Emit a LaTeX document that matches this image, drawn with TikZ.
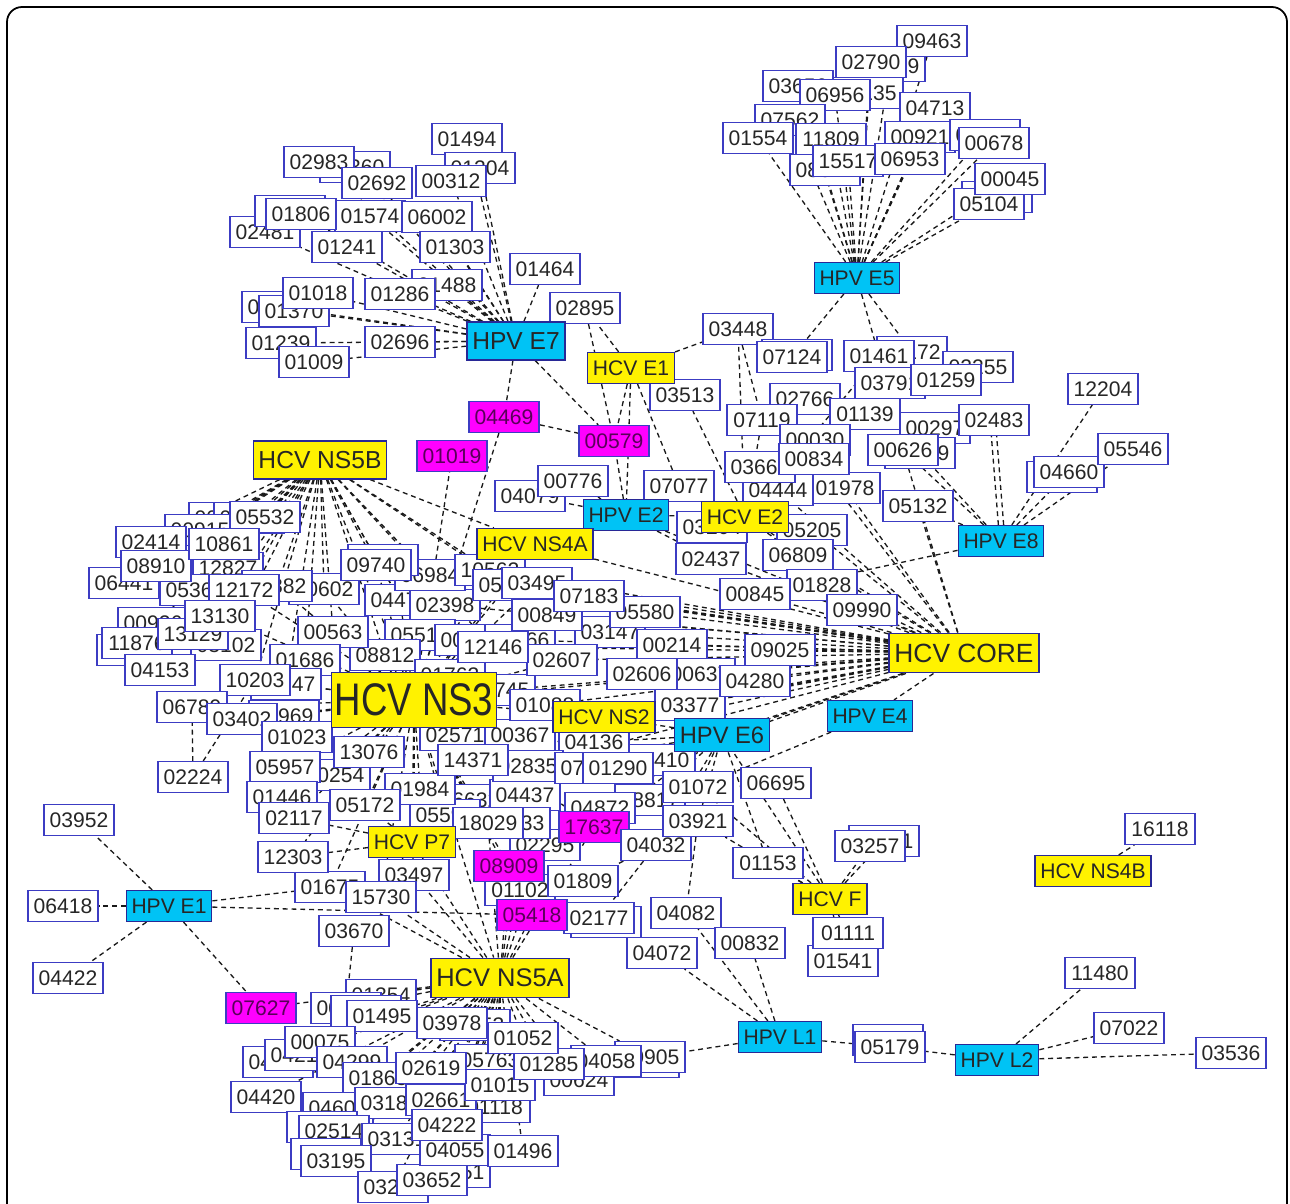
\documentclass[tikz,border=0pt]{standalone}
\usepackage{fontspec}
\setmainfont{Liberation Sans}
\usepackage{tikz}
\usetikzlibrary{positioning}
\pgfdeclarelayer{edges}
\pgfsetlayers{edges,main}
\definecolor{protblue}{RGB}{60,60,195}
\definecolor{hubedge}{RGB}{40,40,150}
\definecolor{hpvcyan}{RGB}{0,195,245}
\definecolor{hitpink}{RGB}{255,0,255}

\begin{document}
\begin{tikzpicture}[x=0.02cm,y=-0.02cm]
\tikzstyle{prot}=[draw=protblue,fill=white,line width=.8pt,inner xsep=3pt,inner ysep=0pt,minimum width=40pt,minimum height=17.5pt,text=black!85,font=\fontsize{12}{12}\selectfont]
\tikzstyle{hpv}=[prot,fill=hpvcyan,draw=hubedge]
\tikzstyle{hcv}=[prot,fill=yellow,draw=hubedge]
\tikzstyle{hit}=[prot,fill=hitpink,text=black!65!hitpink]
\tikzstyle{bighub}=[font=\fontsize{14}{14}\selectfont,minimum height=21.5pt]
\tikzstyle{link}=[dash pattern=on 2.8pt off 2.2pt,line width=.75pt,black!90]
\useasboundingbox (0,0) rectangle (1290,1203);
\draw[line width=1pt,rounded corners=0.3cm] (7,1240) -- (7,7) -- (1287,7) -- (1287,1240);

% HPV E7 cluster
\node[prot] (n01360) at (355,167) {01360};
\node[prot] (n02481) at (265,232) {02481};
\node[prot] (n01574) at (370,216) {01574};
\node[prot] (n01488) at (447,285) {01488};
\node[prot] (s01806) at (290,211) {};
\node[prot] (n01578) at (277,307) {01578};
\node[prot] (n01370) at (294,311) {01370};
\node[prot] (n02983) at (319,162) {02983};
\node[prot] (n02692) at (377,183) {02692};
\node[prot] (n01494) at (467,139) {01494};
\node[prot] (n01204) at (480,168) {01204};
\node[prot] (n00312) at (451,181) {00312};
\node[prot] (n01806) at (301,214) {01806};
\node[prot] (n06002) at (437,217) {06002};
\node[prot] (n01241) at (347,247) {01241};
\node[prot] (n01303) at (455,247) {01303};
\node[prot] (n01464) at (545,269) {01464};
\node[prot] (n01018) at (318,293) {01018};
\node[prot] (n01286) at (400,294) {01286};
\node[prot] (n01239) at (281,343) {01239};
\node[prot] (n01009) at (314,362) {01009};
\node[prot] (n02696) at (400,342) {02696};
\node[prot] (n02895) at (585,308) {02895};
\node[hpv,bighub] (hpvE7) at (516,341) {HPV E7};

% HPV E5 cluster
\node[prot] (n00789) at (890,66) {00789};
\node[prot] (n01135) at (868,93) {01135};
\node[prot] (n03656) at (798,86) {03656};
\node[prot] (n09463) at (932,41) {09463};
\node[prot] (n02790) at (871,62) {02790};
\node[prot] (n06956) at (835,95) {06956};
\node[prot] (n04713) at (935,108) {04713};
\node[prot] (n07562) at (790,120) {07562};
\node[prot] (n01554) at (758,138) {01554};
\node[prot] (n11809) at (831,139) {11809};
\node[prot] (n08321) at (825,170) {08321};
\node[prot] (n15517) at (848,161) {15517};
\node[prot] (n00921) at (920,137) {00921};
\node[prot] (n06953) at (910,159) {06953};
\node[prot] (n00777) at (985,135) {00777};
\node[prot] (n00678) at (994,143) {00678};
\node[prot] (s05104) at (997,197) {};
\node[prot] (n05104) at (989,204) {05104};
\node[prot] (n00045) at (1010,179) {00045};
\node[hpv] (hpvE5) at (857,278) {HPV E5};

% HCV E1 / HPV E8 side
\node[prot] (n03448) at (738,329) {03448};
\node[prot] (s07124) at (797,355) {};
\node[prot] (n07124) at (792,357) {07124};
\node[prot] (n01172) at (912,352) {01172};
\node[prot] (n01461) at (879,356) {01461};
\node[prot] (n02255) at (978,367) {02255};
\node[prot] (n03791) at (890,383) {03791};
\node[prot] (n01259) at (946,380) {01259};
\node[prot] (n02766) at (805,399) {02766};
\node[prot] (n03513) at (685,395) {03513};
\node[hcv] (hcvE1) at (631,368) {HCV E1};
\node[prot] (n07119) at (762,420) {07119};
\node[prot] (n01139) at (865,414) {01139};
\node[prot] (n00297) at (935,428) {00297};
\node[prot] (n02483) at (994,420) {02483};
\node[prot] (n00229) at (920,453) {00229};
\node[prot] (n00626) at (903,450) {00626};
\node[prot] (n01978) at (845,488) {01978};
\node[prot] (n04444) at (778,490) {04444};
\node[prot] (n03666) at (760,467) {03666};
\node[prot] (n00030) at (815,440) {00030};
\node[prot] (n00834) at (814,459) {00834};
\node[prot] (n05132) at (918,506) {05132};
\node[prot] (s04660) at (1062,477) {};
\node[prot] (n04660) at (1069,472) {04660};
\node[prot] (n05546) at (1133,449) {05546};
\node[prot] (n12204) at (1103,389) {12204};
\node[hpv] (hpvE8) at (1001,541) {HPV E8};

% upper middle
\node[prot] (n04079) at (530,496) {04079};
\node[prot] (n00776) at (573,481) {00776};
\node[hit] (n04469) at (504,417) {04469};
\node[hit] (n00579) at (614,441) {00579};
\node[hit] (n01019) at (452,456) {01019};
\node[prot] (n07077) at (679,486) {07077};
\node[prot] (n03204) at (712,527) {03204};
\node[hpv] (hpvE2) at (626,515) {HPV E2};
\node[prot] (n05205) at (812,530) {05205};
\node[hcv] (hcvE2) at (745,517) {HCV E2};
\node[prot] (n02437) at (711,559) {02437};
\node[prot] (n06809) at (798,555) {06809};
\node[prot] (n01828) at (822,585) {01828};
\node[prot] (n00845) at (755,594) {00845};
\node[prot] (n09990) at (862,610) {09990};
\node[prot] (n09025) at (780,650) {09025};

% centre, mostly hidden
\node[prot] (n04471) at (400,600) {04471};
\node[prot] (n02398) at (445,605) {02398};
\node[prot] (n06984) at (430,575) {06984};
\node[prot] (n05512) at (420,635) {05512};
\node[prot] (n00913) at (470,640) {00913};
\node[prot] (n08812) at (385,655) {08812};
\node[prot] (n01763) at (450,675) {01763};
\node[prot] (n02266) at (520,640) {02266};
\node[prot] (n03147) at (610,632) {03147};
\node[prot] (n05580) at (645,612) {05580};
\node[prot] (n00214) at (672,645) {00214};
\node[prot] (n07745) at (500,690) {07745};
\node[prot] (n02571) at (455,735) {02571};
\node[prot] (n00367) at (520,735) {00367};
\node[prot] (n06632) at (470,800) {06632};
\node[prot] (n04437) at (525,795) {04437};
\node[prot] (n02295) at (545,845) {02295};
\node[prot] (n05593) at (445,815) {05593};
\node[prot] (n03377) at (690,705) {03377};
\node[prot] (n04410) at (660,760) {04410};
\node[prot] (n08817) at (650,800) {08817};
\node[prot] (n00637) at (700,674) {00637};
\node[prot] (n02606) at (642,674) {02606};
\node[prot] (n04280) at (755,681) {04280};
\node[prot] (n02607) at (562,660) {02607};
\node[prot] (n12146) at (493,647) {12146};

% HCV NS5B cluster
\node[prot] (n00412) at (224,518) {00412};
\node[prot] (n06018) at (249,518) {06018};
\node[prot] (n00915) at (200,530) {00915};
\node[prot] (n12827) at (228,568) {12827};
\node[prot] (n02414) at (151,542) {02414};
\node[prot] (n06441) at (124,583) {06441};
\node[prot] (n05364) at (195,590) {05364};
\node[prot] (n08910) at (156,566) {08910};
\node[prot] (n05532) at (265,517) {05532};
\node[prot] (n10861) at (224,544) {10861};
\node[prot] (n00602) at (324,589) {00602};
\node[prot] (n01882) at (277,586) {01882};
\node[prot] (n12172) at (244,590) {12172};
\node[prot] (s09740) at (383,560) {};
\node[prot] (n09740) at (376,565) {09740};
\node[prot] (n00926) at (153,623) {00926};
\node[prot] (s11876) at (132,650) {};
\node[prot] (n11876) at (137,643) {11876};
\node[prot] (n03102) at (226,645) {03102};
\node[prot] (n04153) at (160,670) {04153};
\node[prot] (n13129) at (193,634) {13129};
\node[prot] (n13130) at (220,616) {13130};
\node[prot] (n00563) at (333,632) {00563};
\node[prot] (n01686) at (305,660) {01686};
\node[prot] (n01247) at (286,684) {01247};
\node[prot] (n10203) at (255,680) {10203};
\node[prot] (n06789) at (192,707) {06789};
\node[prot] (n02969) at (284,716) {02969};
\node[prot] (n03402) at (242,719) {03402};
\node[prot] (n01023) at (297,737) {01023};
\node[prot] (n02224) at (193,777) {02224};
\node[prot] (n00254) at (335,775) {00254};
\node[prot] (n05957) at (285,767) {05957};
\node[prot] (n13076) at (369,752) {13076};
\node[prot] (n01446) at (282,797) {01446};
\node[prot] (n02117) at (294,818) {02117};
\node[prot] (n01984) at (420,789) {01984};
\node[prot] (n05172) at (365,805) {05172};
\node[hcv,bighub] (hcvNS5B) at (320,460) {HCV NS5B};

% centre visible
\node[prot] (n10562) at (490,570) {10562};
\node[prot] (n05067) at (508,585) {05067};
\node[prot] (n03495) at (537,583) {03495};
\node[prot] (n00849) at (547,615) {00849};
\node[prot] (n07183) at (589,596) {07183};
\node[hcv] (hcvNS4A) at (535,544) {HCV NS4A};
\node[prot] (n01088) at (545,705) {01088};
\node[prot] (n04136) at (594,742) {04136};
\node[hcv] (hcvNS2) at (604,717) {HCV NS2};
\node[prot] (n02835) at (528,766) {02835};
\node[prot] (n14371) at (473,760) {14371};
\node[prot] (n07031) at (590,768) {07031};
\node[prot] (n01290) at (618,768) {01290};
\node[hpv,font=\fontsize{13.5}{13.5}\selectfont,minimum height=19pt] (hpvE6) at (722,735) {HPV E6};
\node[prot] (n01072) at (698,787) {01072};
\node[prot] (n06695) at (776,783) {06695};
\node[hcv,font=\fontsize{15}{15}\selectfont,minimum height=22.5pt] (hcvCORE) at (964,653) {HCV CORE};
\node[hpv] (hpvE4) at (870,716) {HPV E4};
\node[hcv,inner xsep=2pt,minimum height=31pt,font=\fontsize{26}{26}\selectfont] (hcvNS3) at (414,700) {\scalebox{0.8}[1]{HCV NS3}};

% lower middle
\node[prot] (n04872) at (600,808) {04872};
\node[prot] (n01833) at (515,823) {01833};
\node[prot] (n18029) at (488,823) {18029};
\node[hit] (n17637) at (594,827) {17637};
\node[prot] (n04032) at (656,845) {04032};
\node[prot] (n03921) at (698,821) {03921};
\node[prot] (n01102) at (520,890) {01102};
\node[hit] (n08909) at (509,866) {08909};
\node[prot] (n01809) at (583,881) {01809};
\node[prot] (s02177) at (606,922) {};
\node[prot] (n02177) at (599,918) {02177};
\node[hit] (n05418) at (532,915) {05418};
\node[prot] (n03497) at (414,875) {03497};
\node[prot] (n01675) at (330,887) {01675};
\node[prot] (n15730) at (381,897) {15730};
\node[hcv] (hcvP7) at (412,842) {HCV P7};
\node[prot] (n12303) at (293,857) {12303};
\node[prot] (n03670) at (354,931) {03670};
\node[prot] (n01153) at (768,863) {01153};
\node[prot] (n04082) at (686,913) {04082};
\node[prot] (n00832) at (750,943) {00832};
\node[prot] (n04072) at (662,953) {04072};
\node[prot] (n00271) at (884,841) {00271};
\node[prot] (n03257) at (870,846) {03257};
\node[hcv] (hcvF) at (830,899) {HCV F};
\node[prot] (n01541) at (843,961) {01541};
\node[prot] (n01111) at (848,933) {01111};

% HCV NS5A cluster
\node[prot] (n01354) at (381,995) {01354};
\node[prot] (n00357) at (346,1008) {00357};
\node[prot] (s01495) at (366,1011) {};
\node[prot] (n01495) at (382,1016) {01495};
\node[prot] (n04218) at (278,1062) {04218};
\node[prot] (n04216) at (300,1055) {04216};
\node[prot] (n00075) at (320,1042) {00075};
\node[prot] (n04299) at (352,1062) {04299};
\node[prot] (n01863) at (378,1078) {01863};
\node[prot] (n04420) at (266,1097) {04420};
\node[prot] (n04608) at (338,1108) {04608};
\node[prot] (n03181) at (390,1103) {03181};
\node[prot] (s02514) at (322,1127) {};
\node[prot] (n02514) at (334,1131) {02514};
\node[prot] (n03131) at (397,1139) {03131};
\node[prot] (s03195) at (326,1154) {};
\node[prot] (n03195) at (336,1161) {03195};
\node[prot] (n03234) at (393,1187) {03234};
\node[prot] (n04651) at (455,1172) {04651};
\node[prot] (n03652) at (432,1180) {03652};
\node[prot] (n04055) at (455,1150) {04055};
\node[prot] (n01496) at (523,1151) {01496};
\node[prot] (n01118) at (495,1107) {01118};
\node[prot] (n02661) at (441,1100) {02661};
\node[prot] (n04222) at (447,1125) {04222};
\node[prot] (s00905) at (644,1062) {};
\node[prot] (n00905) at (650,1057) {00905};
\node[prot] (n00624) at (579,1080) {00624};
\node[prot] (n04058) at (606,1061) {04058};
\node[prot] (n05763) at (490,1060) {05763};
\node[prot] (n01015) at (500,1085) {01015};
\node[prot] (n02619) at (431,1068) {02619};
\node[prot] (n01285) at (549,1064) {01285};
\node[prot] (n00453) at (475,1025) {00453};
\node[prot] (n03978) at (452,1023) {03978};
\node[prot] (n01052) at (523,1038) {01052};
\node[hcv,font=\fontsize{14.5}{14.5}\selectfont,minimum height=22.5pt] (hcvNS5A) at (500,978) {HCV NS5A};

% HPV E1
\node[hpv] (hpvE1) at (169,906) {HPV E1};
\node[prot] (n03952) at (79,820) {03952};
\node[prot] (n06418) at (63,906) {06418};
\node[prot] (n04422) at (68,978) {04422};
\node[hit] (n07627) at (261,1008) {07627};

% HPV L1, L2, NS4B
\node[hpv] (hpvL1) at (780,1037) {HPV L1};
\node[prot] (s05179) at (888,1040) {};
\node[prot] (n05179) at (890,1047) {05179};
\node[hpv] (hpvL2) at (997,1060) {HPV L2};
\node[prot] (n11480) at (1100,973) {11480};
\node[prot] (n07022) at (1129,1028) {07022};
\node[prot] (n03536) at (1231,1053) {03536};
\node[hcv] (hcvNS4B) at (1093,871) {HCV NS4B};
\node[prot] (n16118) at (1160,829) {16118};

\begin{pgfonlayer}{edges}
\foreach \t in {n01494,n01204,n00312,n02692,n02983,n01360,n01806,n01574,n06002,n02481,n01241,n01303,n01488,n01464,n01018,n01286,n01370,n01578,n01239,n01009,n02696,n04469,n00579}
  \draw[link] (hpvE7) -- (\t);
\foreach \t in {n09463,n02790,n00789,n03656,n06956,n01135,n04713,n07562,n01554,n11809,n08321,n15517,n06953,n00921,n00777,n00678,n00045,n05104,n07124,n01461,n01172}
  \draw[link] (hpvE5) -- (\t);
\foreach \t in {n02895,n03448,n03513,n00579,n07077,hpvE2}
  \draw[link] (hcvE1) -- (\t);
\draw[link] (n02895) -- (n00579);
\draw[link] (n03448) -- (n07119);
\foreach \t in {n03448,n07077,n02437,n03666,n00834,n05205,n06809,n07119,n03513,n02766,n01461,n03791,n04444,n03204}
  \draw[link] (hcvE2) -- (\t);
\foreach \t in {n04660,n12204,n05546,n00626,n00229,n05132,n00845}
  \draw[link] (hpvE8) -- (\t);
\draw[link] ([xshift=-1.5pt]hpvE8.north) -- ([xshift=-1.5pt]n02483.south);
\draw[link] ([xshift=1.5pt]hpvE8.north) -- ([xshift=1.5pt]n02483.south);
\foreach \t in {n09990,n01828,n00845,n06809,n02437,n09025,n04280,n00637,n02606,n02607,n07183,n00849,n03495,hcvNS4A,hpvE2,hcvE2,n05205,n05132,n00626,n00834,n01978,n04444,hpvE6,hcvNS2,n01290,n01088,hcvNS3,n14371,n12146,hpvE4,n02266,n03147,n05580,n00214,n07745,n00367,n03377,n04410,n09740,n10562,n05067,n02835,n06984,n02398}
  \draw[link] (hcvCORE) -- (\t);
\foreach \t in {n05532,n00412,n06018,n00915,n10861,n12827,n02414,n08910,n06441,n05364,n12172,n01882,n00602,n09740,n13130,n13129,n00926,n11876,n03102,n00563,n01686,n10203,n01247,hcvNS3,n04471,n05512,n08812,hcvNS4A,n05067,n10562,n12146,n06984}
  \draw[link] (hcvNS5B) -- (\t);
\foreach \t in {n09740,n00602,n01882,n12172,n13130,n10203,n01247,n01686,n00563,n06789,n03402,n02969,n01023,n05957,n13076,n01446,n02117,n05172,n01984,hcvP7,n12303,n15730,n01675,n03497,n14371,n02835,n01088,hcvNS2,n02607,n00849,n03495,n05067,n10562,hcvNS4A,n12146,n01019,n04469,hcvNS5A,n18029,n08909,n05418,n17637,n04471,n02398,n05512,n00913,n08812,n01763,n02571,n06632,n05593,n00254}
  \draw[link] (hcvNS3) -- (\t);
\draw[link] (n02224) -- (n06789);
\draw[link] (n02224) -- (n10203);
\foreach \t in {n05418,n08909,n01102,n15730,n01675,hcvP7,n03497,n01354,n00357,n01495,n03978,n00453,n01052,n01285,n02619,n05763,n01863,n04299,n00075,n04216,n04420,n02661,n04222,n01118,n01015,n04608,n03181,n02514,n03131,n03195,n03234,n03652,n04651,n04055,n01496,n00624,n04058,n00905,n07627,n18029,n17637,n02295,n04437}
  \draw[link] (hcvNS5A) -- (\t);
\draw[link] (n03670) -- (n00357);
\foreach \t in {n03952,n06418,n04422,n07627,n01675,n05418}
  \draw[link] (hpvE1) -- (\t);
\foreach \t in {n12303,n02117,n05172,n03497,n18029,n15730,n01984}
  \draw[link] (hcvP7) -- (\t);
\foreach \t in {n04072,n04082,n00832,n00905,n05179}
  \draw[link] (hpvL1) -- (\t);
\foreach \t in {n11480,n07022,n03536,n05179}
  \draw[link] (hpvL2) -- (\t);
\draw[link] (hcvNS4B) -- (n16118);
\foreach \t in {n03257,n00271,n01111,n01541,n01153,n03921,n06695,n01072,hpvE6}
  \draw[link] (hcvF) -- (\t);
\draw[link] (n03921) -- (n04082);
\draw[link] (n04032) -- (n02177);
\draw[link] (n04032) -- (n01809);
\draw[link] (hpvE4) -- (n01072);
\foreach \t in {n01290,n04136,hcvNS2,n02835,n07031,n01072,n04032,n03921,n17637,n01153,n04410,n08817,n04872}
  \draw[link] (hpvE6) -- (\t);
\foreach \t in {n00776,n04079,n07077,hcvE2,n00579,hcvNS4A,n02437}
  \draw[link] (hpvE2) -- (\t);
\draw[link] (n04469) -- (n00579);
\end{pgfonlayer}
\end{tikzpicture}
\end{document}
